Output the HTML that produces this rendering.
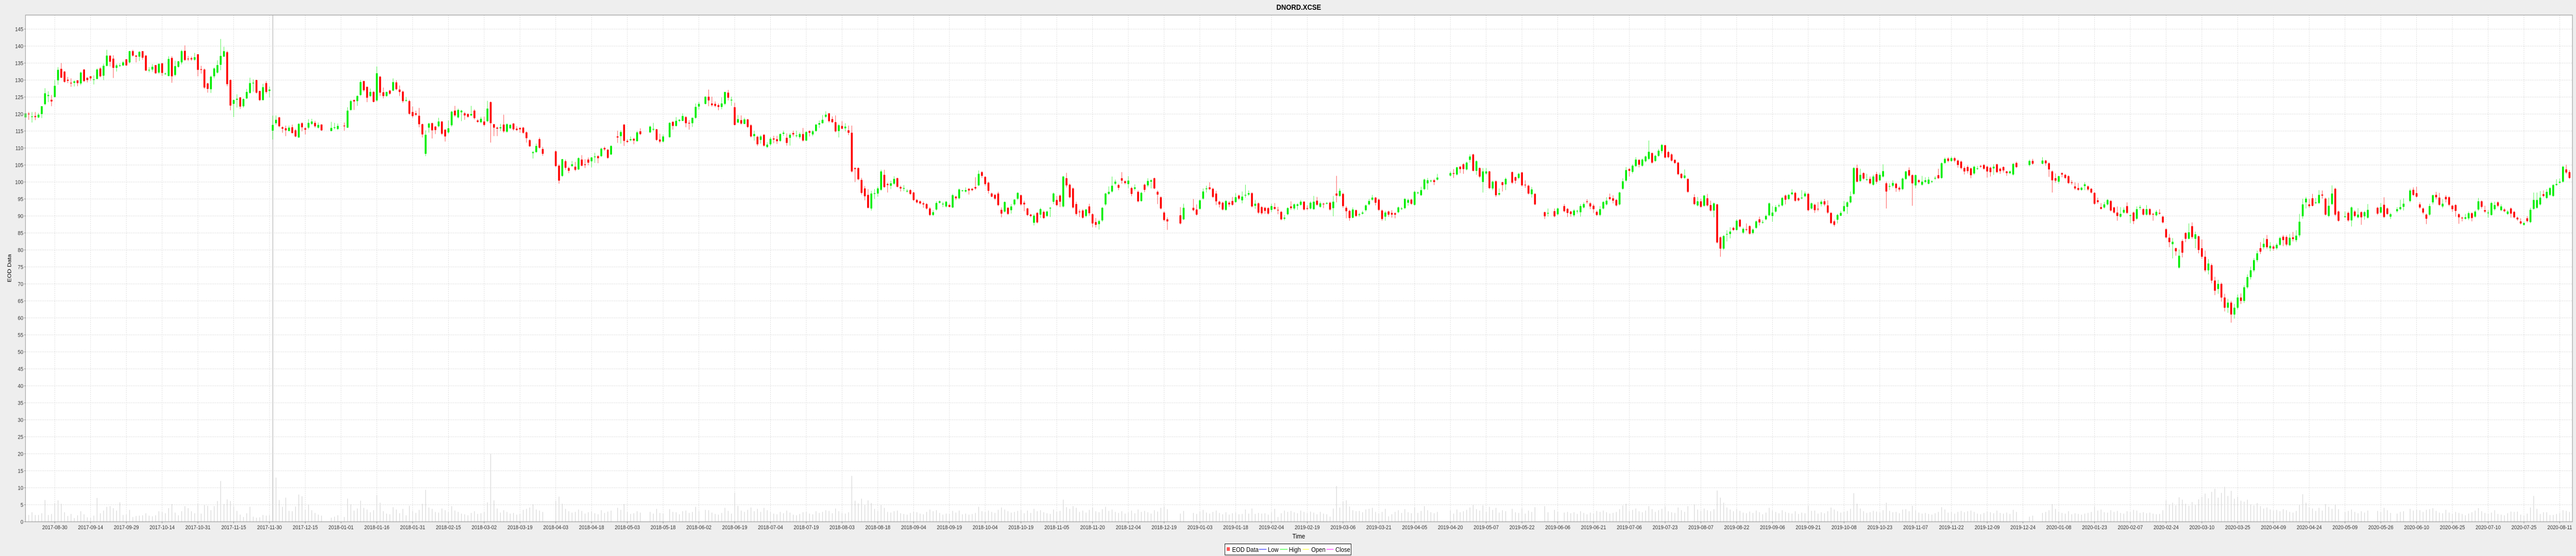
<!DOCTYPE html>
<html><head><meta charset="utf-8"><title>DNORD.XCSE</title>
<style>
html,body{margin:0;padding:0;background:#eeeeee;overflow:hidden;width:100%;height:100%;}
svg{display:block;font-family:"Liberation Sans",Arial,sans-serif;width:100vw;height:100vh;}
</style></head>
<body>
<svg id="chart" viewBox="0 0 5760 1080" preserveAspectRatio="none" xmlns="http://www.w3.org/2000/svg">
<rect x="0" y="0" width="5760" height="1080" fill="#eeeeee"/>
<text x="2904" y="19" text-anchor="middle" font-size="15" font-weight="bold" fill="#000">DNORD.XCSE</text>
<rect x="57" y="29.3" width="5695" height="984.2" fill="#ffffff"/>
<g id="grid"></g>
<g id="volumes"></g>
<line x1="610" y1="29.3" x2="610" y2="1013.5" stroke="#c8c8c8" stroke-width="2"/>
<g id="candles"></g>
<rect x="57" y="29.3" width="5695" height="984.2" fill="none" stroke="#aaaaaa" stroke-width="1.5"/>
<g id="yaxis"></g>
<g id="xaxis"></g>
<text transform="translate(25,521) rotate(-90)" text-anchor="middle" font-size="12" fill="#000">EOD Data</text>
<text x="2904" y="1046" text-anchor="middle" font-size="13" fill="#000">Time</text>
<g>
<rect x="2739" y="1056.5" width="282" height="21.5" fill="#ffffff" stroke="#000" stroke-width="1"/>
<g><rect x="2743" y="1063" width="7" height="7" fill="#ff5555"/><text x="2755" y="1072" font-size="13">EOD Data</text></g>
<g><line x1="2815" y1="1067" x2="2832" y2="1067" stroke="#5555ff" stroke-width="1.5"/><text x="2835" y="1072" font-size="13">Low</text></g>
<g><line x1="2862" y1="1067" x2="2879" y2="1067" stroke="#55ff55" stroke-width="1.5"/><text x="2882" y="1072" font-size="13">High</text></g>
<g><line x1="2913" y1="1067" x2="2927" y2="1067" stroke="#ffff55" stroke-width="1.5"/><text x="2932" y="1072" font-size="13">Open</text></g>
<g><line x1="2966" y1="1067" x2="2982" y2="1067" stroke="#ff55ff" stroke-width="1.5"/><text x="2986" y="1072" font-size="13">Close</text></g>
</g>
</svg>
<script>
const opens = [
119,120.1,119.2,119.4,119,120,122.9,125.3,124.2,125,
129.9,133.3,132.5,130.1,129.2,129.2,129.9,129,133.1,130.7,
131.1,130.1,130.3,133.4,131.3,134.2,137.2,136.3,133.6,134.1,
134.3,136.1,135.2,138.5,137.2,136.9,138.5,137.2,132.9,133.1,
134.4,132.2,134.9,131.8,131.2,136.5,131.5,133.9,135.2,138.6,
136.3,136.4,136,137.6,133.2,133.1,129,127.3,131.1,132.2,
134.5,136.9,138.2,130,123,124.2,124.9,122.3,124.6,126.2,
129.1,130,126.8,124.1,129.1,126.8,115.1,117.3,119,116.1,
115.8,115,116.1,115.2,113.1,117.3,115.8,116,117.1,117.4,
116,116.9,null,null,115,115.9,115.6,null,116.6,116,
121.2,124.1,123.8,125.6,129.7,128,125.3,126.5,124,131,
126.4,125.3,126.9,126.9,129.3,127.2,126.6,123.9,123.8,120.6,
120.2,119.5,117,108.3,116,117.3,116.3,116.4,117.8,115.4,
114.6,116.7,121,119,120.5,120.2,120,119.6,121,118.1,
117.6,117.8,117.9,123.5,117,116,115.8,116.9,114.8,115.8,
117.2,115.7,115.9,116,114.6,112.3,108.5,108.8,112.6,109.7,
null,null,null,109,104.8,101.8,106.1,104.1,104.7,104.5,
103.7,106.6,105.2,106.6,106.1,107.3,107.6,107.6,110,109.5,
108.1,null,113.4,113.5,116.9,112.1,112.3,112.7,112,114.9,
null,null,114.6,115.4,115.5,112.5,111.9,null,113.2,117.7,
116.5,118,118,119.1,117.4,117.3,118.9,122.2,null,123,
125.1,123.1,123,122.6,122.1,123,126.3,124,122,117.5,
118.2,117.1,118.4,116.7,113.5,113.3,112.4,113.9,110.3,111.1,
112.8,112.6,112.1,114.2,113,113,114.4,113.6,113.2,114.1,
112.2,115,114,115,116.9,117.3,119.2,120.2,118.5,117.6,
115,116.5,115.8,115.2,114.5,104.1,104.1,100.6,98.1,96.2,
92.2,96.5,96.6,97.7,102.1,99.4,98.9,99.5,101.1,98.5,
98,97.2,97.6,96.9,94.7,94.3,93.7,93.5,92.2,90.3,
91.9,93.9,93.4,92.8,93.2,92.5,95.7,95.2,97.4,97.2,
98,98,98.5,99,102.9,101.5,99.8,96.6,96.2,96.6,
91.8,91.3,92.4,91.7,93.4,95.1,96.1,93.9,92.2,90.4,
88,90.9,90.4,91.2,90,92.2,94.2,94.7,96,92.8,
101.1,99.2,98.1,93.5,91.3,91.6,90,92.8,90.5,88.2,
87.6,88.7,93.4,96.5,97.2,99.5,99.1,101.1,100.2,99.4,
98.2,98,97.1,94.4,99.2,99,100.1,101.1,97.1,95.5,
91,89,null,null,null,90.2,89,null,null,92.4,
91.9,92.1,95.1,97.9,98.4,98,96.6,94.2,93.9,91.8,
93.9,94.4,94.1,96,94.6,96,96.3,96.7,93,93.7,
92.6,92.4,92.3,91.8,92.6,91.8,91.2,89.2,90.5,92.8,
92.2,93,93.3,94.2,92.3,92.2,92,94.5,92.7,93.6,
93.6,93.9,92.3,96.6,95.9,96.5,92.4,91.5,89.5,91.7,
90.3,90.7,91.7,93.4,94.8,95.4,94.8,91.6,89.8,91.3,
90.9,90.8,91.1,92.1,92.3,93.9,94.8,93.3,96.7,96.1,
97.9,99.6,100.3,100.5,100.7,null,null,null,101.9,102.6,
102.2,104.5,105.2,103.7,106.5,108.1,103.3,104.1,100,102.5,
103.1,98.1,100.2,96.3,99.9,99.3,null,102.9,101.4,101.2,
102.8,99.2,98.9,96.4,96.5,null,null,91.1,90.7,null,
91.4,90.5,null,92.9,92.1,91.3,90.2,91.4,91.1,92.5,
94.3,93.7,93,91.2,90.3,92.2,93.4,95.5,95.2,94.7,
93.4,98,100.4,103.8,103,104.7,106.5,104.8,106.1,106.8,
108.5,106.2,107.7,109.1,110.8,108.8,108.1,106.5,105.7,102.4,
101.2,100.9,null,95.5,93.1,94.3,93,95.2,93.2,91.6,
93.4,83.7,80.4,84.5,84.7,86.5,85.9,88.9,85.1,86.1,
87,85,86.5,89,88.1,89,90.2,90,91.3,92.9,
93.1,96,95,96.4,96.8,95.2,95.2,95.8,96.5,92.2,
93.3,92.1,93.5,94.3,93.1,90.9,88.4,88.9,90.1,91.4,
92.7,94,96.5,104.1,100.3,102.6,100.6,100.9,99.2,102.3,
100.5,101.6,99.6,98.7,98.9,99.5,98.3,97.9,100.9,103.5,
102,99,100.5,99.2,100,99.5,100.1,101,102,101.2,
105.6,106.9,106.2,107,106.3,106,104.1,104.4,104,102.5,
103.9,104.7,105,104.5,104.2,104,105.2,103.9,104.4,103.1,
102.6,102.2,105.6,null,null,null,105,106.2,null,null,
105.4,106.3,105.5,103.1,101.1,100.1,102.6,102.1,101.7,99.9,
98.7,98.2,97.7,98.8,98.7,98,96.8,94.6,92.6,92.5,
93.4,94.4,92.5,91,89.8,91,92.9,90,91,89.2,
92.4,92,90.4,92,90.6,90.2,90.9,89.8,86.1,83.6,
81.7,80.5,74.8,82.6,85,83.3,87,83.3,84,80.5,
78,74,75.5,71,68.5,70,66,63,64.5,61,
63,66,65,69,72,74,77,80.5,80.8,83.2,
80.5,81,80.5,81.5,83.9,83.8,81.4,83.7,82.9,84.3,
89.9,94,93.4,95.2,93.8,93.8,96.3,95.1,90,93.5,
98,91.3,null,89.7,90.9,88.7,91.3,89.6,91.1,89.9,
89.5,null,null,92.4,91,93.3,92.2,89.8,null,91.4,
92,92.7,null,94.4,97.7,96.7,93.4,92.2,90.4,90.4,
94,96.2,95.4,92.8,95.6,95.5,93,93.2,90.5,89.5,
89.2,89.3,90.8,89.8,91.9,94.3,91.7,90.8,90.3,92,
94,91.7,91.9,90.6,92.2,91.2,89.5,88.4,87.4,89.3,
88.2,92.1,92.4,93.4,96.4,95.3,96.2,95.9,99.1,99.8,
100.1,103.7,102.9
];
const closes = [
120.2,120,119.3,119.1,119.8,122.3,126.1,125.6,123.7,128.3,
133,130.7,129.5,129.8,129,129.6,129.1,132.2,129.7,130,
130.5,130.2,133.1,131.1,134.2,137.2,135.4,133.6,134.3,134.3,
135.2,134.3,138.5,137.2,136.9,138.3,136.6,132.8,133,133.9,
132,134.8,132.1,131.9,136.2,131.1,134.1,135.5,138.5,135.9,
136.2,136.1,136.7,133,133,127.8,127.4,131,133.4,134.4,
137.1,138.5,128.8,122.5,124.1,124.5,122.2,124.4,126.5,129.1,
129.2,126.3,124.1,127.9,126.5,127.2,116.8,118.3,116.4,115.7,
115.2,116,114.4,113.4,117.1,116.1,115.4,117.4,117.8,116.4,
116.8,115.2,null,null,115.9,116.1,116.5,null,116.4,121,
123.8,123.7,125.3,129.4,127,124.8,126.5,123.6,132,126.3,
125.3,126.5,126,129.4,127.3,126.5,123.8,124.1,120.1,119.4,
119.8,117,114,113.9,117.2,115.2,115.3,117.8,114.2,113.4,
115.8,120.7,119.6,121.2,121,119.6,119.2,120,118.8,117.7,
118.6,116.8,121.6,117.3,116,115.7,116.1,114.9,117,116.8,
115.5,115.3,115.5,114.5,112.9,110.5,108.8,110.6,110.1,108.3,
null,null,null,104.7,100.4,106.7,104.2,103.3,105.2,103.6,
107,104.8,105,105.7,107.2,107.5,107,109.8,109.6,107.1,
110.6,null,113.1,114.7,112.1,111.8,112.6,112.2,114.6,114.1,
null,null,116.3,115.6,112.4,111.9,113.4,null,117.4,116.5,
118,118.3,119.4,117.3,117.2,118.9,122.1,123,null,125.1,
124,122.6,122.4,122.1,123.1,126.5,124.8,124.2,116.8,118.5,
117.2,118.4,116.2,113.4,114.1,111.1,113.4,110.7,111,112.7,
112.5,112,114.1,114.5,111.5,113.9,114,113.7,114.1,112.2,
114.7,114.5,114.9,116.9,117.3,118.3,119.8,117.9,117.6,114.9,
116.7,115.7,116.3,114.5,103.1,103.8,100.8,96.8,95.8,92.4,
96.6,96.7,98.1,103.1,98.5,99.1,99.6,100.9,98.6,98.1,
98.2,97.4,96.5,94.7,94,93.7,93.4,92.2,90.3,91.1,
93.8,94.3,93.6,94.2,92.7,96.1,95.2,97.8,97.5,97.6,
97.5,97.6,98.1,102.4,101.8,99.4,97.4,95.7,95.1,93.2,
90.7,94.1,90.6,92.8,94.8,96.8,93.4,93.4,90.3,90,
90.1,88.1,92,89.4,91.3,92.4,96.6,93.2,94.2,101.6,
99,95.5,92.5,90.6,91.1,89.5,91.9,90.8,87.8,87.4,
88.5,92.4,96.6,97.1,98.9,100.1,98.3,100.4,99.7,100.4,
96.5,98.4,94.3,96.8,97.7,100.3,100.5,98.1,96.3,92.2,
88.8,88.4,null,null,null,87.8,92.4,null,null,91.7,
90.4,94.6,97.2,98.1,97.9,95.6,94.3,93.4,91.9,94.4,
93.4,93.3,95.5,95.1,95.7,96.2,96.7,92.8,93.6,91,
90.8,91.5,90.7,92.9,92.1,91.7,89,89.5,92.3,92.3,
93.4,93.4,94.2,91.9,92.1,93.9,94.2,93.3,93.7,93.5,
93.8,91.9,94.2,96,97.4,92.9,91.4,89.4,91.9,90,
90.5,91,93.1,94.4,95.4,93.9,91.8,89.1,91,90.4,
90.4,90.4,92.5,92.2,95,94.7,93.6,97.1,96.9,97.6,
100.7,100.5,100.4,100,101.3,null,null,null,102.6,102.4,
104.3,103.8,103.8,105.7,107.5,103.3,106.1,101.6,103.1,103.1,
98.2,100.1,96.1,96.7,99.1,100.9,null,99.8,100.4,102.4,
99,99.1,96.6,97.8,93.4,null,null,89.9,90.9,null,
89.9,92.2,null,91.4,90.9,90.6,91.6,91.5,92.9,93.5,
94.1,92.8,92,90.3,92,94.1,94.5,95,94.5,93.1,
96.9,100.2,103.5,103.3,104.8,106.6,105.1,106.6,107.5,108.9,
105.7,107.7,109.2,110.9,107.2,107.3,106.3,105.6,102.3,101.2,
101.9,97.1,null,93.5,94.3,92.7,96,93.1,91.6,93.7,
82.2,80.4,84.1,84.7,85.4,85.9,88.6,86.9,86.2,86,
84.8,86,88.4,88.1,88.2,90,93.7,91,92.6,93.1,
95.3,94.8,96.2,96.9,94.5,94.6,95.4,96.6,91.7,93.7,
91.7,92,94.2,93.4,91,87.9,87.4,90.3,90.9,92.9,
94,95.8,104.1,100.1,102.1,101,100.8,99.6,101.6,100.1,
102.1,103.2,97.2,98.8,99.7,98.2,97.8,101,103.1,101.9,
99.6,102,100,100.1,100.5,100.7,100.2,101.2,101.1,105.5,
106.8,106.2,107,106.3,105,104.1,103.1,103.2,102,104.5,
104,104.5,103.9,103.1,102.9,104.5,102.9,103.2,103.4,102.6,
103.1,105.3,104.4,null,null,null,106.2,105.4,null,null,
106.3,105.5,103.7,100.5,100.4,101.7,102.2,101.2,99.7,99.8,
98.1,97.7,98.3,99.3,97.8,96.9,93.6,94.1,92.1,93.4,
94.7,91.6,91,90,90.6,91.8,90.9,90.2,88.5,92,
92.6,90.4,92,90.4,90.4,91.2,90.7,88.1,83.7,82.3,
82.4,79.6,78.3,79.2,83.3,85.2,83.8,84.6,80,78,
74,76,71,68,70,66,63,64.5,61,63,
66,65,69,72,74,77,79,79.5,81.8,80.8,
81.2,80.4,81.5,83.5,82.9,81.6,83.6,83.2,84.2,88.3,
93.4,95.1,92.9,93,94,96.2,96,90.4,93,96.6,
90.4,88.6,null,89.9,88.7,92.5,90,90.4,89.6,91.1,
91.8,null,null,90.7,92.6,89.7,90.6,90.5,null,92,
92.6,93.6,null,97.5,96.2,95.7,92.5,91,89.2,92.9,
96.1,95.5,93.3,93.6,94.9,93.3,92,91.5,89.6,89.3,
89.6,90.8,89.4,91.3,94.3,92.7,91.3,91,93.8,93.2,
93,92.8,91.4,91.3,90.7,89.6,89,87.8,87.9,88.5,
91.8,94.7,94.7,95.4,95.9,97.1,98.2,99.1,99.4,100.1,
104.5,102.8,101.2
];
const highs = [
122.5,120.6,120.6,120.6,120.3,122.3,127.6,126.7,125.6,130,
133.8,135,132.6,130.9,130.5,129.9,129.9,132.5,133.2,130.7,
131.1,131.4,133.4,133.8,134.8,138.9,137.2,137.3,134.8,134.9,
135.6,136.1,138.6,138.9,137.3,138.5,138.5,137.3,133.8,134.7,
134.4,134.8,135.1,132.2,137,137,135.7,135.6,138.9,140.2,
137.1,136.9,138,137.6,134.2,133.4,129.2,131.3,133.7,135.8,
142.1,139.8,138.6,130.2,124.3,125.8,124.9,124.6,127.4,130.7,
130.2,130.1,126.8,128.9,129.7,128.1,119.5,119.6,119.2,116.4,
116.6,116.6,116.9,115.6,117.3,117.6,116.1,118.5,118.6,118,
117.5,117,null,null,117.7,117.4,117.2,null,117.5,122,
124.2,124.3,125.5,130,129.8,128.1,127.5,126.8,134,131.2,
127.8,126.6,127.1,130.5,129.9,128.4,126.9,125,124.2,122.2,
121,121.8,117.2,115.2,117.4,117.5,116.5,118.9,117.9,115.5,
118.1,120.9,122.4,121.6,121.2,120.6,120.2,122.4,121.4,118.5,
119.2,119.2,123.9,123.7,117.1,116.3,117.1,119.8,117.3,117,
117.3,116.4,116.1,116.2,114.9,112.6,109.1,111.3,113.1,110.3,
null,null,null,109.3,105.2,106.8,106.6,104.5,106.2,105.9,
107.3,107.9,106.7,107.2,107.4,108.6,107.9,110.1,110.4,109.7,
110.8,null,115.1,115.2,117,112.6,113.4,113,115,115.8,
null,null,116.6,117.4,115.6,114.2,114,null,117.6,117.9,
119.1,118.5,120.2,119.4,118.2,118.9,123.1,123.6,null,125.2,
127.2,125.1,123.7,123.1,124.9,126.5,127.1,125.1,123.3,119.7,
119.6,118.9,118.6,117,115.1,113.6,113.8,114.1,111.7,113.2,
113.6,113.6,114.3,115.1,114.3,114.4,115.1,115.1,114.6,115.9,
115,115.2,115.3,117,118.1,119.7,120.8,120.3,119.3,119.6,
117.1,117.9,117.3,116.6,116.6,104.3,104.3,101.2,98.8,97.9,
97.4,97.9,98.6,103.6,103.6,99.8,100.4,101.7,101.3,98.9,
99.1,97.9,97.9,97.1,95,94.6,94.2,93.8,92.6,91.7,
94.3,94.6,94.1,94.4,93.6,96.5,95.9,98.1,97.7,98.4,
98.2,98.2,101.4,103.4,103.2,101.7,100.1,96.9,96.5,97.1,
92.5,94.3,92.6,93.5,95,97,96.3,94.5,92.4,90.6,
90.6,91.1,92.4,91.6,91.6,92.6,96.9,95.9,96.3,101.8,
102.7,99.5,98.4,94.2,91.9,92,92.1,93.6,90.8,89.4,
88.9,92.6,96.8,98.7,101.6,100.7,99.5,102.9,100.5,101.7,
98.6,99.3,97.5,97.1,99.5,101.1,100.8,101.3,97.5,95.8,
91.3,89.6,null,null,null,92.6,93.6,null,null,95,
93.4,94.9,98.1,98.9,99.9,98.3,97.4,94.5,94.2,94.7,
94.3,95.6,96.7,96.3,97.2,99.2,97.5,97,94.7,94,
92.9,92.7,92.6,93.6,93.8,92.7,91.5,90.3,92.6,94.3,
93.7,93.7,94.7,94.4,93.1,94.3,95.9,95.6,94.2,93.9,
94.1,94.2,95.9,101.8,98.1,96.8,92.9,91.8,92.5,91.9,
90.9,91.5,93.4,95,96.2,95.6,95.1,91.9,91.5,91.6,
91.7,91.1,92.8,92.6,95.3,95.1,95.1,97.4,97.2,98.6,
101,101.2,100.7,100.9,102.4,null,null,null,103.1,103.8,
104.5,104.7,105.5,106,108.1,108.3,106.4,104.3,104.1,104.1,
103.3,100.4,100.5,98.1,100.1,101.3,null,103.1,101.6,102.7,
103,100.5,99.2,98.5,96.7,null,null,91.3,92.2,null,
92.2,92.4,null,93.5,92.3,91.5,92,91.8,93.5,94,
94.9,94.1,93.5,91.6,92.9,94.4,95.5,96.6,96.1,95,
97.1,101.1,104.4,104.1,105.2,107.3,106.7,106.9,107.8,112.2,
108.7,108,109.7,111.2,111,109.2,108.4,106.7,105.9,102.6,
103.7,101.1,null,96.4,95.6,95.1,96.2,96.5,94.5,94,
93.6,84,84.4,85.8,86.7,86.8,89,89.1,86.6,87.8,
87.3,86.3,88.7,89.8,88.8,90.4,94,92.9,93.2,93.6,
95.6,96.3,96.5,97.9,97.1,95.5,97.6,97.2,96.8,94,
93.6,94.1,94.7,95,94.6,91.1,88.9,90.6,91.5,94.4,
94.3,97.2,104.4,105.1,103.9,102.9,102.4,101.6,102.1,103,
102.7,105.2,100.1,99.6,100.5,99.8,98.7,101.3,103.3,104.3,
102.3,102.2,100.8,101.8,101.4,101.5,100.5,101.7,103.9,105.8,
107.2,107.3,107.5,107.4,106.6,106.3,104.6,104.9,104.2,104.8,
104.7,105,105.3,104.8,104.5,105.2,105.4,104.2,104.6,103.3,
103.4,105.6,106,null,null,null,106.6,106.8,null,null,
107.3,106.5,105.8,103.4,102.5,101.9,102.9,102.4,102,100.5,
99.9,99.7,98.6,99.9,99,98.2,97,95.4,93.8,94.1,
95,94.7,92.7,92.8,92.6,92.5,94,90.5,91.3,92.8,
93.2,92.3,93.2,92.3,90.9,91.7,92,90.1,86.4,84.7,
83.5,80.7,80.1,83.1,85.2,87.8,88.1,85.4,84.2,83.1,
79.8,77.3,76,72.1,71.2,70.4,67.1,65.6,65,64.1,
66.9,67.2,69.6,72.8,75.1,77.6,79.8,82.3,83.5,84.4,
82.3,81.5,82,83.9,84.4,84.3,84.7,85.3,85.8,90.6,
95.1,95.6,95,96.5,95.3,97.6,97.5,95.4,95.4,99,
98.3,91.6,null,91.3,91.3,92.8,91.7,92.3,91.4,91.5,
93.5,null,null,92.7,93.8,95.5,92.5,90.9,null,92.6,
94.8,95.2,null,98,98.4,98.6,94,92.5,90.7,93.6,
96.3,97.1,96.8,94.9,96.1,95.8,93.3,93.5,90.8,89.8,
90.6,91.3,91.1,91.7,95.3,94.6,93,91.7,94.2,94.2,
94.3,93.4,92.3,91.7,92.5,91.5,89.8,89.3,88.3,89.9,
92.4,96.9,96.9,97.3,97.5,97.9,98.5,99.4,100.8,101,
104.8,105.1,103.5
];
const lows = [
113,118.3,117.5,118.2,118.8,118.8,122.6,123.5,122.3,124.9,
128.6,130.6,129.2,129.1,128,128.1,128.2,128.5,129.4,129.3,
129.8,128.7,130.3,130.8,130,134,134,130.6,132.5,134,
134.1,134.2,134.9,136.9,135.2,135.6,136,132.6,132.3,132.5,
131.8,131.8,131.2,131.6,131.1,129.2,131.1,133.6,134.6,135.6,
135.6,135.7,135.6,131.1,131.9,127.4,126.3,126.2,130.5,131.9,
132.9,136.8,128.2,121.1,119.1,121.9,121.5,121.9,124.4,126,
126.6,126,123.8,124,126,124.9,112.5,116.8,116.1,114.5,
113.5,114.9,114.3,113.2,113,114.9,114,115.5,116.8,116,
115.7,115,null,null,114.9,115.5,115.3,null,115.1,115.9,
121,121.2,122.4,125.3,126.6,123.5,125,123.4,123.7,125.3,
124.6,125.1,125.7,126.7,127,125.3,123.3,123.6,119.8,118.9,
119.4,116.1,113.1,107.6,114.5,112.8,114.1,116.1,113.8,111.9,
114.2,116.3,119.2,118.7,117.9,118.3,118.9,119.4,118.4,117.4,
117.3,116.4,117.6,111.6,113.5,113.5,115,114.5,114.5,115.6,
115.1,115,114.5,114.2,111.6,110.3,106.9,108.6,109.8,107.7,
null,null,null,104.4,99.5,101.5,103.6,102.6,104.4,103.2,
103.5,104.6,104.1,104.9,104.3,105.6,105.5,107.4,109.2,106.8,
107.9,null,111.5,111.3,110.6,111.5,112,111.1,111.9,113.8,
null,null,114.4,115,112.1,111.4,111.6,null,113,115.4,
116.3,117.6,117.9,116.1,115.4,116.2,118.6,121.3,null,122.8,
122.3,122.2,122,121.1,121.4,122.6,124,122.4,116.6,117.3,
116.9,117,115.9,113.1,112.2,110.6,111.3,110.4,110,110.7,
111.4,111.2,111.8,113.6,110.7,110.7,113.4,113.1,112.7,111.9,
112,113.4,113.5,114.8,115.9,117.2,118.8,117.5,117.4,114.6,
113.1,115.5,114.9,113.8,102.8,100,100.5,96.3,94.6,92.2,
91.6,95,95.7,97.4,98.3,96.9,97.9,99.2,98.4,97.2,
97.3,96.9,96.2,94.4,93.7,93.4,92.4,91.9,90,90,
91.6,93.6,92.6,92.5,92.5,92.3,94.7,94.9,97.2,96.9,
96.3,97.3,97.7,98.8,101.2,98.9,96.6,95.5,94.7,92.9,
89.6,91,90.3,90.7,93,94.7,93,91.4,90,89.6,
87.2,87.8,89.4,89.1,89.7,89.7,93.5,92.9,92.6,92.5,
98.4,95.2,92.2,90.1,89.7,89.2,89.6,90.1,86.7,86.6,
86,88.3,93,96.2,96.9,99.1,97.6,99.5,99.3,98.2,
95.8,97.5,94,94.2,97,98.5,98.1,97.9,93.5,91.9,
88.5,85.9,null,null,null,87.5,88.8,null,null,91.4,
90.1,91.8,94.8,96.9,97.6,95.3,93.2,92.5,91.6,91.5,
92.7,93,93.9,94.7,93.7,95.4,95.9,92.5,92.1,90.6,
90.4,90.6,90.4,91.1,91.8,90.5,88.7,88.7,90.2,91.8,
91.7,91.8,93,91.6,91.7,91.9,91.8,93,92.4,92.3,
93.4,91.6,89.9,94,95.6,92.4,89.3,88.6,89.3,89.7,
89.8,90.4,91.3,93.1,94.5,93.1,91.5,88.6,88.6,89.8,
89.5,89.3,90.8,91.8,92,93,93.3,93,96.4,95.9,
97.6,97.7,99.9,99.1,100.4,null,null,null,101.6,101.2,
101.9,102.6,102.4,103.4,105.7,103.1,102.1,101.2,96.9,102.1,
97.9,97.6,95.6,95.9,97.2,97.6,null,99.4,99.5,100.8,
98.7,98.3,96.3,95.4,93.2,null,null,89.1,89.8,null,
89.6,90.2,null,91.1,89.7,89.8,89.7,90.7,89.8,92.2,
93.6,92,90.9,90,89.9,91.9,93.1,94.6,93.7,92.8,
93.1,97.7,100.1,101.6,102.5,104.4,104.3,104.5,105.8,106.5,
105.4,105.9,107.4,108.4,106.9,107,106,105.3,102,100.9,
100.9,96.8,null,93.2,92.8,92.4,92.7,92.8,91.3,89.6,
81.9,78,80,82.5,83.4,85.6,85.6,86.6,84.7,85.5,
84.5,84.6,86.2,87.2,87.7,88.7,89.9,88.3,91,92.5,
92.8,93.4,94.7,96.1,94.2,94.3,94.9,95.5,91.4,91.9,
90.9,91.4,92.8,92.9,90.6,87.6,86.9,87.8,89.9,91.1,
90.6,93.7,96.2,99.9,100,100.6,100.3,99.3,98.9,99.5,
100.2,101.3,92.2,97.6,98.4,97.1,97.2,97.6,100.6,101.6,
93,98.2,99.6,98.9,99.7,99.3,99.7,100.6,100.9,100.9,
105.3,105.8,105.9,105.8,104.2,103.7,102.2,102.5,101.1,102.1,
103.6,104.2,103.6,101.3,101.6,102.1,102.6,102.4,102.8,101.8,
102.3,101.9,104.1,null,null,null,104.6,105.1,null,null,
105.2,104.8,101.5,96.9,99.8,99.5,101.4,100.9,99.4,99.2,
97.7,97.4,97.4,97.6,97.4,96.6,93.3,93.6,91.9,92.2,
93.1,91.3,90.7,88.6,89.5,90.7,90.6,87.9,87.6,88.9,
91.8,90.1,90.1,90.1,88.6,89.9,90.4,87.8,83.4,80.8,
77.5,78.3,74.5,77.8,82.3,83.1,83.3,80.5,79,77.4,
73.5,72.8,70.2,66.7,67.1,64.8,61.9,61.5,58.6,59.8,
62.5,64.1,64.4,68.6,71.3,73.5,76.4,78.8,80.2,80.3,
79.6,79.8,80.1,81.2,81.1,81.1,81.1,82.5,82.3,83.7,
89.2,92.2,92.4,92.8,93.5,93.5,95.1,90.1,89.6,93.2,
90,88.3,null,89.4,88.3,86.9,89.6,89.3,87.4,88.9,
89.2,null,null,90.3,90.7,89.4,90.3,89.1,null,91,
91.7,91.6,null,94,95.9,95.4,92.1,90.5,87.6,90,
93.4,94.9,93,92.3,94,92.9,91.2,89.8,87.7,88.4,
88.9,88.8,88.4,89.5,91.5,92.2,90.9,89.5,90.1,91.6,
92.6,91.4,91.1,90.3,89.5,89.3,88.6,87.5,87.1,88.1,
87.9,91.8,92.1,93.1,95.5,95,95.9,95.6,98.9,99.5,
99.8,102.4,100.9
];
const volumes = [
2,2,2.8,2,2,2.5,6.4,2,2.3,5.5,
6.3,5.3,2.8,1.7,2.3,1.1,1.9,3.1,2.2,1.3,
1.3,1.8,7,2.5,3.3,4.4,4.6,4,3.3,5.7,
2,2.1,3.5,1.4,1.7,1.8,1.9,2.5,1.8,1.6,
1.9,3.1,2.8,2.5,4,5.2,2.7,1.9,3.1,4.6,
4,3.1,2.5,5.4,2.4,4.9,4.7,3.4,4.6,6.1,
12,5.2,6.6,6.1,4.5,3.2,2.1,1.4,2.5,4.4,
1.5,1.2,1.3,2,1.8,2,22,13,6.4,4.4,
7.1,3.2,3.1,4.5,8,7.5,3.5,5.1,3.4,2.6,
2.1,1.8,null,null,1.2,1.5,1.9,null,1.4,6.8,
5.1,3.3,3.9,6.2,4.1,3.6,2.8,3.4,7.9,5.6,
3.1,2.4,2.2,4.3,3.6,2.5,3.8,1.9,4.7,3.2,
2.6,3.5,5.3,9.4,4.2,3.8,2.9,2.7,3.9,3.4,
2.8,4.6,3.3,2.9,2.4,2.2,1.9,2.6,3.1,2.3,
2.5,2.8,5.7,20,6.3,3.9,2.7,3.4,2.9,2.4,
2.6,2.1,2.3,3.5,3.8,4.2,5.1,3.6,3.3,2.9,
null,null,null,6.2,7.4,5.3,3.8,3.1,2.7,2.9,
3.6,3.2,2.4,2.8,3.1,2.5,2.2,3.4,2.6,3,
3.3,null,4.1,3.5,5.2,2.9,2.3,2.5,3.1,2.7,
null,null,2.9,2.4,3.8,2.6,2.5,null,3.7,2.9,
2.8,2.2,3.1,3.3,2.6,2.9,4.4,3.2,null,3.5,
3.4,2.7,2.3,2.1,2.6,4.1,3.2,2.4,8.6,4.7,
3.3,2.9,3.5,4.2,3.1,3.8,2.9,4.1,3.4,2.8,
2.4,2.2,2.9,2.5,3.3,2.7,2.1,1.9,2.3,2.8,
3,2.4,2.2,3.1,2.6,2.9,3.4,3.2,2.5,3.9,
3.1,2.6,2.4,2.8,13.5,6.2,5.4,6.8,5.1,6.3,
5.5,3.8,3.2,4.9,4.1,2.9,2.7,3.1,3.3,2.5,
2.3,2.1,2.6,3,2.8,2.4,2.2,2.9,3.6,3.1,
3.4,2.6,2.1,2.4,2.3,3.2,2.7,3.3,2.2,2.4,
2.1,2.3,2.6,4.4,3.1,2.8,3.3,2.9,2.6,3.5,
4.2,3.6,3.1,2.7,2.9,3.2,3.4,2.5,3.3,2.6,
3.8,3.1,3.4,2.8,2.5,2.3,3.6,3,3.2,6.5,
4.3,3.8,4.6,4.1,2.9,3.3,2.7,3.5,4.2,3.1,
2.8,3.7,4.4,3.2,3.6,2.9,2.6,3.1,2.4,2.7,
3.3,2.5,3.6,2.9,3.2,2.8,2.4,3.4,3,4.1,
4.5,3.7,null,null,null,2.4,3.2,null,null,2.6,
2.3,3.1,3.5,2.7,2.4,2.9,3.3,2.6,2.2,2.8,
2.1,2.5,2.7,2.2,2.3,3.6,2.4,3.9,2.3,2.6,
2.4,2.5,2.1,2.7,3.8,1.4,2.5,3.3,2.9,3.2,
2.8,2.5,3.3,2.9,2.6,3,2.7,2.2,2.9,2.4,
2.2,1.5,3.9,10.5,4.2,6,6.3,4.5,3.4,3.1,
3.2,2.8,3.6,3.8,4.1,2.9,2.5,2.9,3.8,1.6,
2.2,2.9,3.4,2.6,3.7,2.8,2.5,4.3,2.6,3.2,
4.6,3.4,2.8,2.5,2.9,null,null,null,3.3,2.4,
3.6,2.8,3.1,3.5,4.2,5.1,3.7,3.3,4.8,2.9,
4.4,3.5,4.1,2.7,3.4,3.1,null,3.8,2.8,2.6,
3.9,2.4,3.3,2.9,4.3,null,null,4.6,2.8,null,
3.5,3,null,2.7,2.9,2.5,2.8,2.3,3.1,2.6,
2.2,2.7,2.5,3.2,2.9,3.3,2.8,2.4,2.6,2.9,
3.7,4.8,5.3,3.2,3.5,3.9,3.1,2.8,3.3,4.6,
3.7,2.9,3.4,3.8,4.5,3.1,2.8,2.6,4.2,3.4,
2.9,4.6,null,5.1,3.6,3.2,3.9,3.4,3.1,3.7,
9.2,7.1,5.6,4.2,3.6,3.1,3.8,3.2,2.7,2.5,
3,2.6,3.3,2.8,2.2,2.7,4.1,3.3,2.9,2.5,
3.4,2.9,2.6,2.4,3.1,2.3,2.7,2.5,4.6,3.2,
3.3,2.4,2.8,2.5,3.1,4.2,3.6,3.1,2.7,2.9,
3.2,3.8,8.4,5.3,3.9,3.1,2.6,2.8,3.2,3,
2.7,3.4,5.6,3.2,2.8,2.9,2.5,3.6,3.7,3.1,
4.7,3.3,2.7,2.4,2.6,2.3,2.1,2.5,2.9,4.3,
3.6,2.7,2.8,2.4,2.9,3.2,2.8,3.1,3.3,2.9,
2.4,2.2,2.6,3.1,2.8,2.5,3.3,2.6,2.4,2.7,
2.3,3.5,2.9,null,null,null,1.5,1.8,null,null,
2.6,2.9,3.4,5.2,3.8,2.9,2.6,2.4,3.1,2.2,
2.5,2.3,2.1,2.4,2.6,2.9,4.5,3.3,3.6,2.8,
2.7,3.4,2.9,3.2,2.6,2.4,3.1,2.8,3.5,3.3,
2.6,2.8,2.5,2.7,2.4,2.2,2.3,3.4,6.3,5.1,
5.6,4.8,7.2,6.5,5.3,4.7,5.8,4.9,6.6,7.4,
8.3,6.9,8.8,9.7,7.1,8.5,10.3,7.6,9.1,6.8,
7.4,6.2,5.9,6.5,5.1,4.8,5.5,4.6,3.9,4.2,
3.6,3.3,3.5,3.1,3.7,3.4,2.9,2.7,3.2,4.9,
8.1,5.6,4.3,3.9,3.2,4.1,3.3,5.2,4.4,3.8,
5.1,3.7,null,2.8,3.2,3.6,2.9,2.5,3.1,2.7,
3.3,null,null,3.2,2.8,4.1,3.4,2.6,null,2.4,
2.9,3.1,null,3.8,3.3,3.6,3.4,2.9,3.5,3.7,
4,3.2,2.7,2.5,3.5,2.7,2.3,2.9,2.6,2.3,
1.9,2.4,2.8,3.3,4,3.1,2.6,2.3,2.7,3.4,
2.3,2.1,1.9,2.5,3,2.9,3,2.1,1.9,2.4,
4.2,7.6,3.8,2.3,2.8,2.8,2,2,2.3,2.6,
3.4,3.2,2.9
];
const yTicks = [0,5,10,15,20,25,30,35,40,45,50,55,60,65,70,75,80,85,90,95,100,105,110,115,120,125,130,135,140,145];
const firstDate = [2017, 7, 17];
const firstTickSlot = 9;
const tickEvery = 11;

const NS = 'http://www.w3.org/2000/svg';
const plotL = 57, plotR = 5752, plotT = 29.3, plotB = 1013.5;
const xMin = 0, xMax = 782.9, yMin = 0, yMax = 149.12;
function xScale(i) { return plotL + (i - xMin) / (xMax - xMin) * (plotR - plotL); }
function yScale(v) { return plotB - (v - yMin) / (yMax - yMin) * (plotB - plotT); }
function mk(tag, attrs, parent) {
  const e = document.createElementNS(NS, tag);
  for (const k in attrs) e.setAttribute(k, attrs[k]);
  parent.appendChild(e);
  return e;
}
const grid = document.getElementById('grid');
const yaxis = document.getElementById('yaxis');
const xaxis = document.getElementById('xaxis');
const volG = document.getElementById('volumes');
const candG = document.getElementById('candles');

yTicks.forEach(function (v) {
  const y = yScale(v);
  const gl = mk('line', {x1: plotL, x2: plotR, y1: y, y2: y, stroke: '#d6d6d6', 'stroke-width': 1, 'stroke-dasharray': '2,2'}, grid);
  
  
  const tk = mk('line', {x1: plotL - 3, x2: plotL, y1: y, y2: y, stroke: '#888', 'stroke-width': 1}, yaxis);
  
  
  const t = mk('text', {x: plotL - 5, y: y + 4, 'text-anchor': 'end', 'font-size': 11, fill: '#333'}, yaxis);
  
  
  t.textContent = String(v);
});

function slotDate(i) {
  const d = new Date(Date.UTC(firstDate[0], firstDate[1], firstDate[2]));
  let n = 0;
  while (n < i) {
    d.setUTCDate(d.getUTCDate() + 1);
    const wd = d.getUTCDay();
    if (wd !== 0 && wd !== 6) n++;
  }
  return d;
}
function fmt(d) {
  const m = d.getUTCMonth() + 1, day = d.getUTCDate();
  return d.getUTCFullYear() + '-' + (m < 10 ? '0' : '') + m + '-' + (day < 10 ? '0' : '') + day;
}
for (let k = 0; ; k++) {
  const i = firstTickSlot + k * tickEvery;
  if (i > xMax) break;
  const x = xScale(i);
  const gl = mk('line', {x1: x, x2: x, y1: plotT, y2: plotB, stroke: '#d6d6d6', 'stroke-width': 1, 'stroke-dasharray': '2,2'}, grid);
  
  
  const tk = mk('line', {x1: x, x2: x, y1: plotB, y2: plotB + 3, stroke: '#888', 'stroke-width': 1}, xaxis);
  
  
  const d = slotDate(k >= 30 ? i - 1 : i);
  const mo = d.getUTCMonth();
  if (d.getUTCDay() === 1 && mo >= 3 && mo <= 9) d.setUTCDate(d.getUTCDate() - 2);
  const t = mk('text', {x: x, y: 1028, 'text-anchor': 'middle', 'font-size': 11, fill: '#333'}, xaxis);
  
  
  t.textContent = fmt(d);
}

volumes.forEach(function (v, i) {
  if (v === null) return;
  const x = xScale(i);
  const r = mk('rect', {x: x - 0.75, y: yScale(v), width: 1.5, height: yScale(0) - yScale(v), fill: '#d9d9d9'}, volG);
  
  
});

closes.forEach(function (c, i) {
  const o = opens[i];
  if (c === null || o === null) return;
  const h = Math.max(highs[i], o, c), l = Math.min(lows[i], o, c);
  const up = c >= o;
  const col = up ? '#00ee00' : '#ff0000';
  const x = xScale(i);
  const g = mk('g', {}, candG);
  
  
  mk('line', {x1: x, x2: x, y1: yScale(h), y2: yScale(l), stroke: col, 'stroke-width': 1.2, 'stroke-opacity': 0.65}, g);
  const yt = yScale(Math.max(o, c)), yb = yScale(Math.min(o, c));
  mk('rect', {x: x - 2.1, y: yt, width: 4.2, height: Math.max(1.2, yb - yt), fill: col}, g);
});
</script>
</body></html>
